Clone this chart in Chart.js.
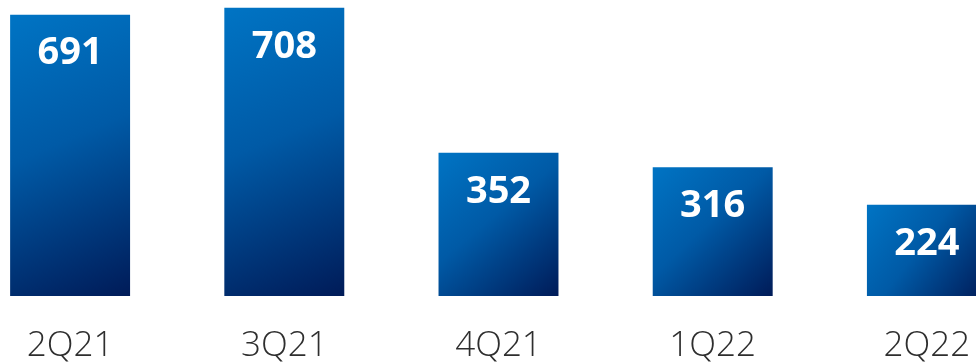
<!DOCTYPE html>
<html>
<head>
    <title>Quarterly volume</title>
    <style>
        html, body {
            margin: 0;
            padding: 0;
            background: #ffffff;
            overflow: hidden;
            width: 976px;
            height: 363px;
        }
        #chart-wrap {
            position: absolute;
            left: -37px;
            top: 0;
            width: 1071px;
            height: 363px;
        }
    </style>
    <script src="https://cdn.jsdelivr.net/npm/chart.js"></script>
</head>
<body>
    <div id="chart-wrap">
        <canvas id="quarterChart" width="1071" height="363"></canvas>
    </div>
    <script>
        const quarters = ['2Q21', '3Q21', '4Q21', '1Q22', '2Q22'];
        const values = [691, 708, 352, 316, 224];
        const yMax = 727;

        // diagonal fill per bar: bright blue top-left to navy bottom-right
        function barGradient(context) {
            const chart = context.chart;
            const xScale = chart.scales.x;
            const yScale = chart.scales.y;
            if (!xScale || !yScale || context.raw === undefined) {
                return '#0060b0';
            }
            const cx = xScale.getPixelForValue(context.dataIndex);
            const half = 60;
            const top = yScale.getPixelForValue(context.raw);
            const bottom = yScale.getPixelForValue(0);
            if (![cx, top, bottom].every(Number.isFinite) || bottom === top) {
                return '#0060b0';
            }
            const g = chart.ctx.createLinearGradient(cx - half, top, cx + half, bottom);
            g.addColorStop(0, '#0074c4');
            g.addColorStop(0.45, '#005aa6');
            g.addColorStop(1, '#001b58');
            return g;
        }

        // white value text near the top of each bar
        const valueLabels = {
            id: 'valueLabels',
            afterDatasetsDraw(chart) {
                const ctx = chart.ctx;
                const meta = chart.getDatasetMeta(0);
                ctx.save();
                ctx.fillStyle = '#ffffff';
                ctx.font = '700 38px "Open Sans", sans-serif';
                ctx.textAlign = 'center';
                ctx.textBaseline = 'middle';
                meta.data.forEach((bar, i) => {
                    ctx.fillText(String(values[i]), bar.x, bar.y + 39);
                });
                ctx.restore();
            }
        };

        new Chart(document.getElementById('quarterChart'), {
            type: 'bar',
            data: {
                labels: quarters,
                datasets: [{
                    data: values,
                    backgroundColor: barGradient,
                    borderWidth: 0,
                    categoryPercentage: 1,
                    barPercentage: 0.56
                }]
            },
            options: {
                responsive: false,
                animation: false,
                events: [],
                layout: {
                    padding: 0
                },
                plugins: {
                    legend: { display: false },
                    tooltip: { enabled: false }
                },
                scales: {
                    x: {
                        grid: { display: false },
                        border: { display: false },
                        afterFit(scale) {
                            scale.height = 67;
                        },
                        ticks: {
                            color: '#2e2e2e',
                            padding: 21,
                            font: { family: '"Open Sans", sans-serif', size: 35, weight: 300 }
                        }
                    },
                    y: {
                        display: false,
                        min: 0,
                        max: yMax
                    }
                }
            },
            plugins: [valueLabels]
        });
    </script>
</body>
</html>
